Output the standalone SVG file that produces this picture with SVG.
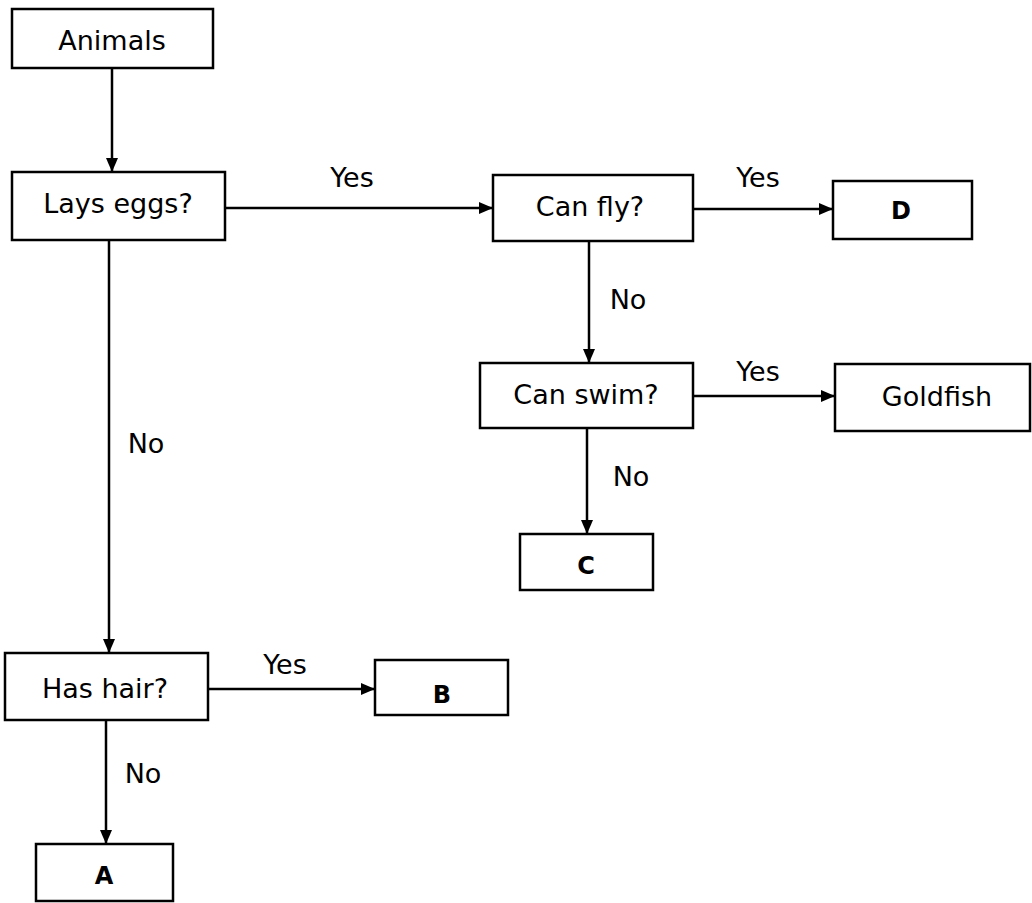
<svg xmlns="http://www.w3.org/2000/svg" width="1032" height="903" viewBox="0 0 1032 903">
<style>
.box{fill:#fff;stroke:#000;stroke-width:2.5}
.t{font-family:"DejaVu Sans","Liberation Sans",sans-serif;font-size:27px;fill:#000;text-anchor:middle}
.b{font-family:"DejaVu Sans","Liberation Sans",sans-serif;font-size:24px;font-weight:bold;fill:#000;text-anchor:middle}
.c{stroke:#000;stroke-width:2.5;fill:none;marker-end:url(#ah)}
</style>
<defs>
<marker id="ah" viewBox="0 0 14 12" refX="14" refY="6" markerWidth="14" markerHeight="12" markerUnits="userSpaceOnUse" orient="auto">
<path d="M0,0 L14,6 L0,12 Z" fill="#000"/>
</marker>
</defs>
<rect width="1032" height="903" fill="#fff"/>
<g id="connectors">
<line class="c" x1="112" y1="68" x2="112" y2="172"/>
<line class="c" x1="225" y1="208" x2="493" y2="208"/>
<line class="c" x1="693" y1="209" x2="833" y2="209"/>
<line class="c" x1="589" y1="241" x2="589" y2="363"/>
<line class="c" x1="693" y1="396" x2="835" y2="396"/>
<line class="c" x1="587" y1="428" x2="587" y2="534"/>
<line class="c" x1="109" y1="240" x2="109" y2="653"/>
<line class="c" x1="208" y1="689" x2="375" y2="689"/>
<line class="c" x1="106" y1="720" x2="106" y2="844"/>
<text class="t" x="352" y="187">Yes</text>
<text class="t" x="758" y="187">Yes</text>
<text class="t" x="628" y="309">No</text>
<text class="t" x="758" y="381">Yes</text>
<text class="t" x="631" y="486">No</text>
<text class="t" x="146" y="453">No</text>
<text class="t" x="285" y="674">Yes</text>
<text class="t" x="143" y="783">No</text>
</g>
<g id="animals"><rect class="box" x="12" y="9" width="201" height="59"/><text class="t" x="112" y="50">Animals</text></g>
<g id="lays-eggs"><rect class="box" x="12" y="172" width="213" height="68"/><text class="t" x="118" y="213">Lays eggs?</text></g>
<g id="can-fly"><rect class="box" x="493" y="175" width="200" height="66"/><text class="t" x="590" y="216">Can fly?</text></g>
<g id="d"><rect class="box" x="833" y="181" width="139" height="58"/><text class="b" x="901" y="219">D</text></g>
<g id="can-swim"><rect class="box" x="480" y="363" width="213" height="65"/><text class="t" x="586" y="404">Can swim?</text></g>
<g id="goldfish"><rect class="box" x="835" y="364" width="195" height="67"/><text class="t" x="937" y="406">Goldfish</text></g>
<g id="c"><rect class="box" x="520" y="534" width="133" height="56"/><text class="b" x="586" y="574">C</text></g>
<g id="has-hair"><rect class="box" x="5" y="653" width="203" height="67"/><text class="t" x="105" y="698">Has hair?</text></g>
<g id="b"><rect class="box" x="375" y="660" width="133" height="55"/><text class="b" x="442" y="703">B</text></g>
<g id="a"><rect class="box" x="36" y="844" width="137" height="57"/><text class="b" x="104" y="884">A</text></g>
</svg>
